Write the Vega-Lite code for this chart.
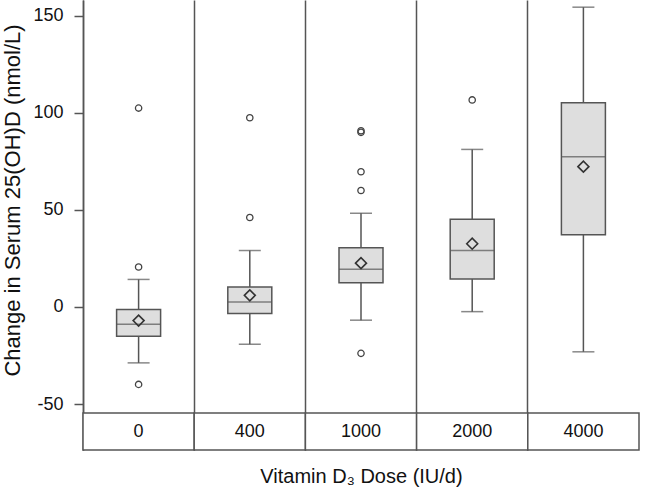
{
  "$schema": "https://vega.github.io/schema/vega-lite/v6.json",
  "width": 556,
  "height": 450,
  "autosize": {"type": "none"},
  "padding": {"left": 83, "top": 0, "right": 27, "bottom": 48},
  "background": "white",
  "config": {
    "view": {"stroke": null},
    "font": "Liberation Sans",
    "axisY": {
      "grid": false,
      "tickSize": 9,
      "tickColor": "#555555",
      "tickWidth": 1.5,
      "domainColor": "#555555",
      "domainWidth": 1.5,
      "labelPadding": 11,
      "labelFontSize": 18,
      "labelColor": "#111111",
      "titleFontSize": 22,
      "titleFontWeight": "normal",
      "titleColor": "#111111",
      "titleAngle": -90,
      "titleX": -71,
      "titleY": 200,
      "titleAlign": "center",
      "titleBaseline": "middle"
    }
  },
  "datasets": {
    "stats": [
      {"dose": "0", "min": -28.8, "q1": -15.1, "median": -8.9, "q3": -1.3, "max": 14.2, "mean": -7.0},
      {"dose": "400", "min": -19.2, "q1": -3.4, "median": 2.6, "q3": 10.3, "max": 29.1, "mean": 6.0},
      {"dose": "1000", "min": -6.8, "q1": 12.5, "median": 19.4, "q3": 30.5, "max": 48.3, "mean": 22.6},
      {"dose": "2000", "min": -2.4, "q1": 14.4, "median": 29.1, "q3": 45.2, "max": 81.2, "mean": 32.6},
      {"dose": "4000", "min": -23.1, "q1": 37.2, "median": 77.4, "q3": 105.2, "max": 154.5, "mean": 72.3}
    ],
    "outliers": [
      {"dose": "0", "value": 102.5},
      {"dose": "0", "value": 20.6},
      {"dose": "0", "value": -39.9},
      {"dose": "400", "value": 97.5},
      {"dose": "400", "value": 46.1},
      {"dose": "1000", "value": 90.0},
      {"dose": "1000", "value": 90.8},
      {"dose": "1000", "value": 69.7},
      {"dose": "1000", "value": 60.0},
      {"dose": "1000", "value": -23.9},
      {"dose": "2000", "value": 106.7}
    ]
  },
  "data": {"name": "stats"},
  "encoding": {
    "x": {
      "field": "dose",
      "type": "nominal",
      "sort": ["0", "400", "1000", "2000", "4000"],
      "scale": {"paddingInner": 0, "paddingOuter": 0},
      "axis": {
        "orient": "bottom",
        "grid": true,
        "bandPosition": 0,
        "gridColor": "#555555",
        "gridWidth": 1.5,
        "gridOpacity": 1,
        "domain": false,
        "ticks": false,
        "labels": false,
        "title": "Vitamin D₃ Dose (IU/d)",
        "titleFontSize": 20,
        "titleFontWeight": "normal",
        "titleColor": "#111111",
        "titlePadding": 16
      }
    }
  },
  "layer": [
    {
      "mark": {"type": "bar", "fill": "white", "stroke": "#555555", "strokeWidth": 1.5},
      "encoding": {
        "y": {
          "datum": -54.6,
          "type": "quantitative",
          "title": "Change in Serum 25(OH)D (nmol/L)",
          "scale": {"domain": [-73.7, 158.2], "nice": false, "zero": false},
          "axis": {"values": [-50, 0, 50, 100, 150], "labelExpr": "'' + datum.value"}
        },
        "y2": {"datum": -73.7}
      }
    },
    {
      "mark": {"type": "rule", "stroke": "#555555", "strokeWidth": 1.5},
      "encoding": {
        "y": {"field": "min", "type": "quantitative", "title": "Change in Serum 25(OH)D (nmol/L)", "axis": {"values": [-50, 0, 50, 100, 150], "labelExpr": "'' + datum.value"}},
        "y2": {"field": "max"}
      }
    },
    {
      "mark": {"type": "tick", "color": "#555555", "size": 22, "thickness": 1.5},
      "encoding": {"y": {"field": "min", "type": "quantitative", "title": "Change in Serum 25(OH)D (nmol/L)", "axis": {"values": [-50, 0, 50, 100, 150], "labelExpr": "'' + datum.value"}}}
    },
    {
      "mark": {"type": "tick", "color": "#555555", "size": 22, "thickness": 1.5},
      "encoding": {"y": {"field": "max", "type": "quantitative", "title": "Change in Serum 25(OH)D (nmol/L)", "axis": {"values": [-50, 0, 50, 100, 150], "labelExpr": "'' + datum.value"}}}
    },
    {
      "mark": {"type": "bar", "width": 44, "fill": "#dedede", "stroke": "#555555", "strokeWidth": 1.5},
      "encoding": {
        "y": {"field": "q1", "type": "quantitative", "title": "Change in Serum 25(OH)D (nmol/L)", "axis": {"values": [-50, 0, 50, 100, 150], "labelExpr": "'' + datum.value"}},
        "y2": {"field": "q3"}
      }
    },
    {
      "mark": {"type": "tick", "color": "#555555", "size": 44, "thickness": 1.5},
      "encoding": {"y": {"field": "median", "type": "quantitative", "title": "Change in Serum 25(OH)D (nmol/L)", "axis": {"values": [-50, 0, 50, 100, 150], "labelExpr": "'' + datum.value"}}}
    },
    {
      "mark": {"type": "point", "shape": "diamond", "size": 120, "filled": false, "stroke": "#333333", "strokeWidth": 1.6, "opacity": 1},
      "encoding": {"y": {"field": "mean", "type": "quantitative", "title": "Change in Serum 25(OH)D (nmol/L)", "axis": {"values": [-50, 0, 50, 100, 150], "labelExpr": "'' + datum.value"}}}
    },
    {
      "data": {"name": "outliers"},
      "mark": {"type": "point", "shape": "circle", "size": 40, "filled": false, "stroke": "#444444", "strokeWidth": 1.3, "opacity": 1},
      "encoding": {"y": {"field": "value", "type": "quantitative", "title": "Change in Serum 25(OH)D (nmol/L)", "axis": {"values": [-50, 0, 50, 100, 150], "labelExpr": "'' + datum.value"}}}
    },
    {
      "mark": {"type": "text", "fontSize": 18, "color": "#111111", "baseline": "middle"},
      "encoding": {
        "y": {"datum": -64.2, "type": "quantitative", "title": "Change in Serum 25(OH)D (nmol/L)", "axis": {"values": [-50, 0, 50, 100, 150], "labelExpr": "'' + datum.value"}},
        "text": {"field": "dose"}
      }
    }
  ]
}
